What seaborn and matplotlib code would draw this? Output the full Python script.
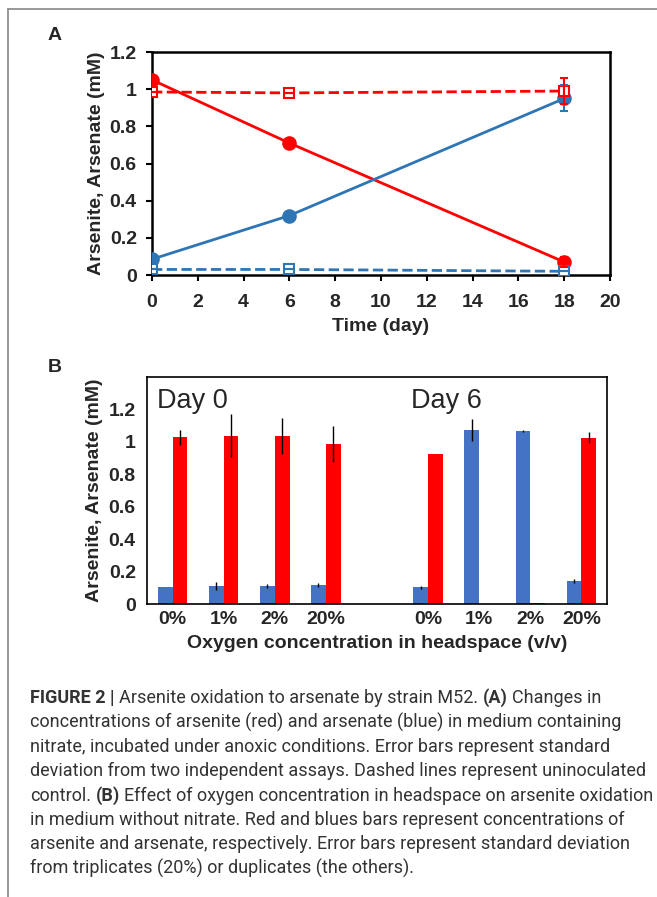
import matplotlib
matplotlib.use("Agg")
import matplotlib.pyplot as plt
from matplotlib.lines import Line2D
import numpy as np
import pandas as pd
import seaborn as sns

# ---- Panel A data (time course) ----
time_days = [0, 6, 18]
arsenite = [1.05, 0.71, 0.07]
arsenite_err = [0.0, 0.0, 0.025]
arsenate = [0.085, 0.32, 0.95]
arsenate_err = [0.0, 0.0, 0.07]
ctrl_arsenite = [0.985, 0.98, 0.99]
ctrl_arsenite_err = [0.0, 0.0, 0.07]
ctrl_arsenate = [0.03, 0.03, 0.02]
ctrl_arsenate_err = [0.0, 0.0, 0.0]

# ---- Panel B data (oxygen in headspace) ----
oxygen_labels = ["0%", "1%", "2%", "20%"]
day0_arsenate = [0.107, 0.111, 0.111, 0.117]
day0_arsenate_err = [0.0, 0.027, 0.01, 0.015]
day0_arsenite = [1.028, 1.039, 1.035, 0.988]
day0_arsenite_err = [0.045, 0.13, 0.11, 0.11]
day6_arsenate = [0.103, 1.076, 1.066, 0.142]
day6_arsenate_err = [0.01, 0.068, 0.008, 0.01]
day6_arsenite = [0.928, 0.0, 0.005, 1.025]
day6_arsenite_err = [0.0, 0.0, 0.0, 0.035]

RED = "#FF0000"
BLUE_A = "#2E75B6"
BLUE_B = "#4472C4"

sns.set_theme(style="white")
plt.rcParams["font.family"] = ["Liberation Sans", "DejaVu Sans"]

fig = plt.figure(figsize=(6.57, 8.97), dpi=100)

# frame lines around the figure page
fig.add_artist(Line2D([8 / 657, 1], [1 - 9 / 897, 1 - 9 / 897], color="#888888", lw=1.2))
fig.add_artist(Line2D([8 / 657, 8 / 657], [0, 1 - 9 / 897], color="#888888", lw=1.2))

# ================= Panel A =================
axA = fig.add_axes([0.2314, 0.6934, 0.6971, 0.2486])
series = [
    (arsenite, arsenite_err, RED, "-", "o", True),
    (arsenate, arsenate_err, BLUE_A, "-", "o", True),
    (ctrl_arsenite, ctrl_arsenite_err, RED, "--", "s", False),
    (ctrl_arsenate, ctrl_arsenate_err, BLUE_A, "--", "s", False),
]
for vals, errs, col, ls, mk, filled in series:
    sns.lineplot(x=time_days, y=vals, ax=axA, color=col, linestyle=ls, lw=2.0,
                 marker=mk, markersize=9 if filled else 7,
                 markerfacecolor=col if filled else "white",
                 markeredgecolor=col, markeredgewidth=1.5,
                 dashes=False if ls == "-" else [4.0, 2.5], zorder=3)
    axA.errorbar(time_days, vals, yerr=errs, fmt="none", ecolor=col,
                 elinewidth=1.5, capsize=3, capthick=1.5, zorder=4)

axA.set_xlim(0, 20)
axA.set_ylim(0, 1.2)
axA.set_xticks(range(0, 21, 2))
axA.set_yticks([0, 0.2, 0.4, 0.6, 0.8, 1.0, 1.2])
axA.set_yticklabels(["0", "0.2", "0.4", "0.6", "0.8", "1", "1.2"])
for s in axA.spines.values():
    s.set_color("black")
    s.set_linewidth(1.8)
axA.tick_params(axis="both", direction="out", length=4, width=1.5, color="black",
                labelsize=14, bottom=True, left=True)
axA.tick_params(axis="x", pad=10)
axA.tick_params(axis="y", pad=7)
for lab in axA.get_xticklabels() + axA.get_yticklabels():
    lab.set_fontweight("bold")
axA.set_xlabel("Time (day)", fontsize=14, fontweight="bold", labelpad=5)
axA.set_ylabel("Arsenite, Arsenate (mM)", fontsize=14, fontweight="bold", labelpad=3)
fig.text(55 / 657, 1 - 35 / 897, "A", fontsize=14, fontweight="bold", ha="center", va="center")

# ================= Panel B =================
axB = fig.add_axes([0.2237, 0.3266, 0.7002, 0.2531])
slots = [f"d0_{o}" for o in oxygen_labels] + ["gap"] + [f"d6_{o}" for o in oxygen_labels]
rows = []
errs_lookup = {}
for day, ase, ase_e, ite, ite_e in [("d0", day0_arsenate, day0_arsenate_err, day0_arsenite, day0_arsenite_err),
                                    ("d6", day6_arsenate, day6_arsenate_err, day6_arsenite, day6_arsenite_err)]:
    for i, o in enumerate(oxygen_labels):
        key = f"{day}_{o}"
        rows.append({"slot": key, "species": "Arsenate", "conc": ase[i]})
        rows.append({"slot": key, "species": "Arsenite", "conc": ite[i]})
        errs_lookup[(key, "Arsenate")] = ase_e[i]
        errs_lookup[(key, "Arsenite")] = ite_e[i]
dfB = pd.DataFrame(rows)

sns.barplot(data=dfB, x="slot", y="conc", hue="species", order=slots,
            hue_order=["Arsenate", "Arsenite"], palette=[BLUE_B, RED],
            width=0.58, gap=0, errorbar=None, legend=False, ax=axB,
            linewidth=0, saturation=1)

# error bars on top of each bar
for p in axB.patches:
    h = p.get_height()
    if np.isnan(h):
        continue
    cx = p.get_x() + p.get_width() / 2
    idx = int(round(cx))
    sp = "Arsenate" if cx < idx else "Arsenite"
    e = errs_lookup.get((slots[idx], sp), 0)
    if e > 0:
        axB.errorbar(cx, h, yerr=e, fmt="none", ecolor="black", elinewidth=1.0, capsize=0)

axB.set_xlim(-0.5, len(slots) - 0.5)
axB.set_ylim(0, 1.4)
axB.set_yticks([0, 0.2, 0.4, 0.6, 0.8, 1.0, 1.2])
axB.set_yticklabels(["0", "0.2", "0.4", "0.6", "0.8", "1", "1.2"])
tick_pos = [i for i, s in enumerate(slots) if s != "gap"]
axB.set_xticks(tick_pos)
axB.set_xticklabels([s.split("_")[1] for s in slots if s != "gap"])
for s in axB.spines.values():
    s.set_color("black")
    s.set_linewidth(1.2)
axB.tick_params(axis="both", length=0, labelsize=14)
axB.tick_params(axis="x", pad=5)
axB.tick_params(axis="y", pad=8)
for lab in axB.get_xticklabels() + axB.get_yticklabels():
    lab.set_fontweight("bold")
axB.set_xlabel("Oxygen concentration in headspace (v/v)", fontsize=14, fontweight="bold", labelpad=5)
axB.set_ylabel("Arsenite, Arsenate (mM)", fontsize=14, fontweight="bold", labelpad=4)
axB.text(0.022, 0.95, "Day 0", transform=axB.transAxes, fontsize=19.5, ha="left", va="top")
axB.text(0.575, 0.95, "Day 6", transform=axB.transAxes, fontsize=19.5, ha="left", va="top")
fig.text(55 / 657, 1 - 368 / 897, "B", fontsize=14, fontweight="bold", ha="center", va="center")

# ================= Caption =================
caption = [
    [("FIGURE 2 |", True), (" Arsenite oxidation to arsenate by strain M52. ", False), ("(A)", True), (" Changes in", False)],
    [("concentrations of arsenite (red) and arsenate (blue) in medium containing", False)],
    [("nitrate, incubated under anoxic conditions. Error bars represent standard", False)],
    [("deviation from two independent assays. Dashed lines represent uninoculated", False)],
    [("control. ", False), ("(B)", True), (" Effect of oxygen concentration in headspace on arsenite oxidation", False)],
    [("in medium without nitrate. Red and blues bars represent concentrations of", False)],
    [("arsenite and arsenate, respectively. Error bars represent standard deviation", False)],
    [("from triplicates (20%) or duplicates (the others).", False)],
]
cap_family = ["Liberation Sans Narrow", "Roboto", "DejaVu Sans"]
renderer = fig.canvas.get_renderer()

# scale font so the longest line fits the text block width
probe = fig.text(0, 0, "".join(t for t, _ in caption[4]), fontsize=12, family=cap_family)
w = probe.get_window_extent(renderer).width
probe.remove()
cap_size = 12 * 622 / w

x0 = 30
y_first = 698
line_step = 24.4
for li, pieces in enumerate(caption):
    x = x0
    y = 1 - (y_first + li * line_step) / 897
    for txt, bold in pieces:
        lead = len(txt) - len(txt.lstrip(" "))
        core = txt.strip(" ")
        sp = fig.text(0, 0, "a a", fontsize=cap_size, family=cap_family)
        sp2 = fig.text(0, 0, "aa", fontsize=cap_size, family=cap_family)
        space_w = sp.get_window_extent(renderer).width - sp2.get_window_extent(renderer).width
        sp.remove(); sp2.remove()
        x += lead * space_w
        t = fig.text(x / 657, y, core, fontsize=cap_size, family=cap_family,
                     fontweight="bold" if bold else "normal", color="#333333",
                     ha="left", va="center")
        x += t.get_window_extent(renderer).width
        x += (len(txt) - len(txt.rstrip(" "))) * space_w if core else 0

fig.savefig("out.png", dpi=100)
